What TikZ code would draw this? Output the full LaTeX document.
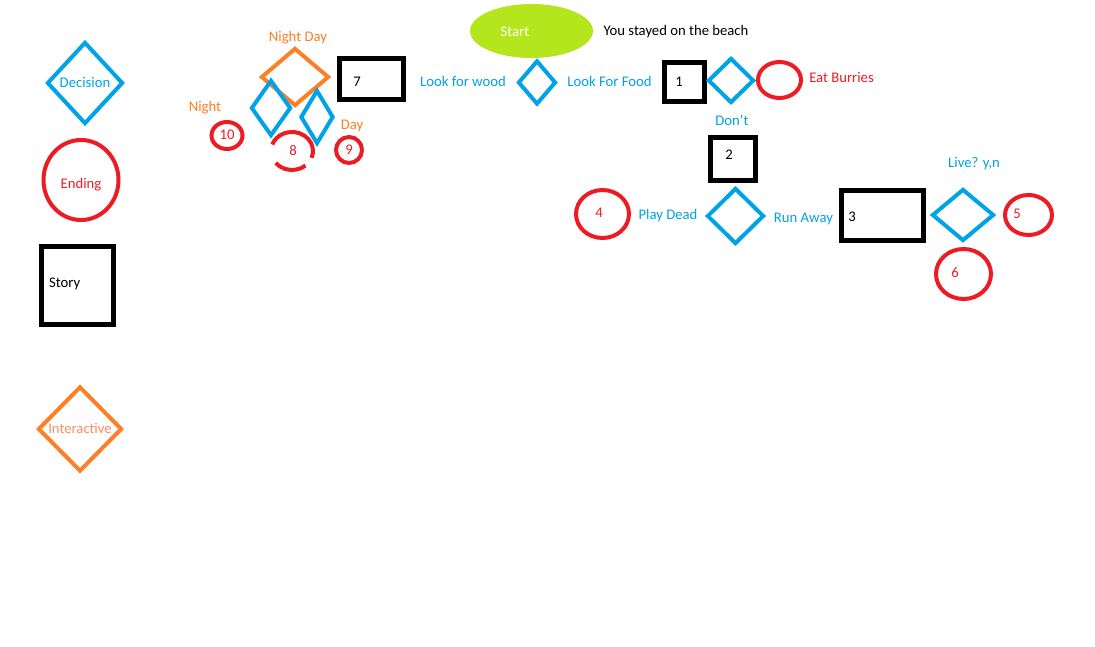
\documentclass[tikz,border=0pt]{standalone}
\usepackage{fontspec}
\setmainfont{Carlito}
\usetikzlibrary{shapes.geometric}
\definecolor{decblue}{HTML}{00A2E8}
\definecolor{endred}{HTML}{ED1C24}
\definecolor{intorange}{HTML}{FF7F27}
\definecolor{intsalmon}{RGB}{255,140,100}
\definecolor{startlime}{HTML}{B5E61D}
\begin{document}
\begin{tikzpicture}[x=1pt, y=-1pt,
    txt/.style={inner sep=0pt, text height=9.4pt, text depth=0pt, font=\fontsize{14.7}{17}\selectfont},
    decision/.style={draw=decblue, line width=4pt, diamond, inner sep=0pt, txt},
    interactive/.style={draw=intorange, line width=4pt, diamond, inner sep=0pt, txt},
    ending/.style={draw=endred, line width=4pt, ellipse, inner sep=0pt},
    story/.style={draw=black, line width=5pt, rectangle, inner sep=0pt}]
    \useasboundingbox[fill=white] (0,0) rectangle (1095,647);

    % Key
    \node[decision, text=decblue, minimum width=76, minimum height=82] (deckey) at (85,83) {Decision};
    \node[ending, minimum width=75, minimum height=80] (endkey) at (81,180) {};
    \node[txt, text=endred] (endkeytxt) at (81,184) {Ending};
    \node[story, minimum width=72, minimum height=78] (storykey) at (77,285.5) {};
    \node[txt, anchor=west] (storykeytxt) at (49,283) {Story};
    \node[interactive, text=intsalmon, minimum width=84, minimum height=85] (intkey) at (80,429) {Interactive};

    % Night or day
    \node[interactive, minimum width=68, minimum height=58] (nightday) at (295,77) {};
    \node[txt, text=intorange] (nightdaytxt) at (298,37) {Night Day};
    \node[decision, minimum width=40, minimum height=56] (night) at (271,108) {};
    \node[decision, minimum width=33, minimum height=54] (day) at (317,117) {};
    \node[txt, text=intorange] (nighttxt) at (205,107) {Night};
    \node[txt, text=intorange] (daytxt) at (352,125) {Day};
    \node[ending, minimum width=31, minimum height=27] (end10) at (227,135.5) {};
    \node[txt, text=endred] (end10txt) at (227,135) {10};
    \coordinate (end8) at (292,151);
    \draw[endred, line width=4pt] (end8) ++(-160:21 and 19) arc[start angle=-160, end angle=21, x radius=21, y radius=19];
    \draw[endred, line width=4pt] (end8) ++(50:21 and 19) arc[start angle=50, end angle=141, x radius=21, y radius=19];
    \node[txt, text=endred] (end8txt) at (293,151) {8};
    \node[ending, minimum width=26, minimum height=26] (end9) at (349,150) {};
    \node[txt, text=endred] (end9txt) at (349,150) {9};
    \node[story, minimum width=64, minimum height=41] (story7) at (371.5,79) {};
    \node[txt] (story7txt) at (357,82) {7};

    % Start
    \node[ellipse, fill=startlime, minimum width=123, minimum height=54] (start) at (531.5,31) {};
    \node[txt, text=white] (starttxt) at (515,32) {Start};
    \node[txt] (beach) at (676,31) {You stayed on the beach};

    % Wood or food
    \node[decision, minimum width=38, minimum height=44] (woodfood) at (537,82.5) {};
    \node[txt, text=decblue] (wood) at (463,82) {Look for wood};
    \node[txt, text=decblue] (food) at (609.5,82) {Look For Food};
    \node[story, minimum width=40, minimum height=39] (story1) at (684.5,82) {};
    \node[txt] (story1txt) at (679,82) {1};
    \node[decision, minimum width=46, minimum height=45] (burries) at (731,80.5) {};
    \node[ending, minimum width=43, minimum height=36] (endeat) at (779.5,80) {};
    \node[txt, text=endred] (eattxt) at (841.5,78) {Eat Burries};
    \node[txt, text=decblue] (dont) at (732,121) {Don't};
    \node[story, minimum width=45, minimum height=43] (story2) at (733,159) {};
    \node[txt] (story2txt) at (729,155) {2};

    % Play dead or run away
    \node[decision, minimum width=57, minimum height=56] (deadrun) at (735.5,216) {};
    \node[txt, text=decblue] (dead) at (668,215) {Play Dead};
    \node[txt, text=decblue] (run) at (803.5,218) {Run Away};
    \node[ending, minimum width=53, minimum height=48] (end4) at (602.5,214) {};
    \node[txt, text=endred] (end4txt) at (599,213) {4};
    \node[story, minimum width=82, minimum height=50] (story3) at (882.5,215.5) {};
    \node[txt] (story3txt) at (852,217) {3};

    % Live or not
    \node[decision, minimum width=62, minimum height=52] (live) at (963,215) {};
    \node[txt, text=decblue] (livetxt) at (974,163) {Live? y,n};
    \node[ending, minimum width=47, minimum height=40] (end5) at (1028.5,215) {};
    \node[txt, text=endred] (end5txt) at (1017,214) {5};
    \node[ending, minimum width=55, minimum height=50] (end6) at (963.5,274) {};
    \node[txt, text=endred] (end6txt) at (955,273) {6};

\end{tikzpicture}
\end{document}
